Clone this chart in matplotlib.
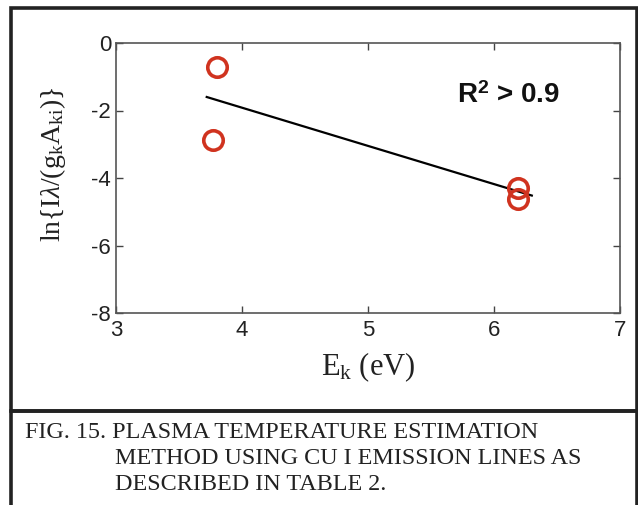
import matplotlib.pyplot as plt
from matplotlib.patches import Rectangle

# data
energy_ev = [3.80, 3.77, 6.19, 6.19]
ln_ratio = [-0.72, -2.87, -4.30, -4.63]
fit_x = [3.72, 6.30]
fit_y = [-1.60, -4.52]
x_ticks = [3, 4, 5, 6, 7]
y_ticks = [0, -2, -4, -6, -8]
caption_lines = [
    "FIG. 15. PLASMA TEMPERATURE ESTIMATION",
    "METHOD USING CU I EMISSION LINES AS",
    "DESCRIBED IN TABLE 2.",
]

plt.rcParams["axes.unicode_minus"] = False
plt.rcParams["mathtext.fontset"] = "custom"
plt.rcParams["mathtext.rm"] = "Liberation Serif"
plt.rcParams["mathtext.it"] = "Liberation Serif:italic"
plt.rcParams["mathtext.bf"] = "Liberation Sans:bold"

W, H = 638, 505
fig = plt.figure(figsize=(W / 100, H / 100), dpi=100)

# axes placement in pixels
l, r, t, b = 116, 620, 43, 313
ax = fig.add_axes([l / W, 1 - b / H, (r - l) / W, (b - t) / H])

ax.plot(fit_x, fit_y, color="black", lw=1.6)
ax.plot(energy_ev, ln_ratio, "o", ms=14, mfc="none", mec="#d0331f", mew=2.6)

ax.set_xlim(3, 7)
ax.set_ylim(-8, 0)
ax.set_xticks(x_ticks)
ax.set_yticks(y_ticks)
ax.tick_params(direction="in", length=5, width=1, colors="#444444",
               top=True, right=True, labelsize=16, labelcolor="#222222")
ax.tick_params(axis="x", pad=5)
for lab in ax.get_xticklabels() + ax.get_yticklabels():
    lab.set_family("Liberation Sans")
for s in ax.spines.values():
    s.set_color("#555555")
    s.set_linewidth(1.2)

ax.set_xlabel(r"E$_\mathrm{k}$ (eV)", family="Liberation Serif", fontsize=22,
              color="#222222", labelpad=7)
ax.set_ylabel(r"ln{I$\lambda$/(g$_\mathrm{k}$A$_\mathrm{ki}$)}", family="Liberation Serif",
              fontsize=20, color="#222222", labelpad=8)
ax.yaxis.set_label_coords(-0.095, 0.55)

ax.text(5.71, -1.55, r"R$^\mathbf{2}$ > 0.9", family="Liberation Sans", weight="bold",
        fontsize=20, color="#111111", va="center", ha="left")

# outer frames
frame_kw = dict(transform=fig.transFigure, fill=False, lw=2.6, ec="#222222")
fig.patches.append(Rectangle((11 / W, 1 - 411 / H), (637 - 11) / W, (411 - 8) / H, **frame_kw))
fig.patches.append(Rectangle((11 / W, -0.02), (637 - 11) / W, (1 - 411 / H) + 0.02, **frame_kw))

# caption
cap_kw = dict(family="Liberation Serif", fontsize=17.4, color="#222222", va="center", ha="left")
fig.text(25 / W, 1 - 433 / H, caption_lines[0], **cap_kw)
fig.text(115 / W, 1 - 458 / H, caption_lines[1], **cap_kw)
fig.text(115 / W, 1 - 484 / H, caption_lines[2], **cap_kw)

fig.savefig("out.png", dpi=100)
